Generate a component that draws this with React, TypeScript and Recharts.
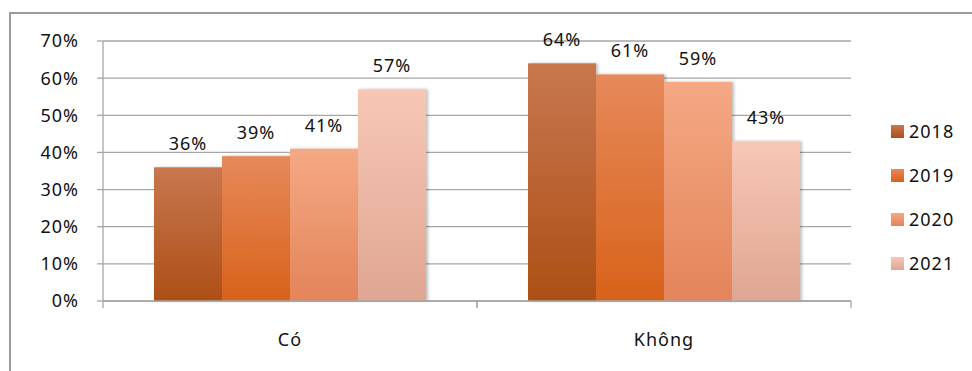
import { Bar, BarChart, CartesianGrid, LabelList, XAxis, YAxis } from "recharts";

const categories = ["Có", "Không"];
const years = ["2018", "2019", "2020", "2021"];
const v2018 = [36, 64];
const v2019 = [39, 61];
const v2020 = [41, 59];
const v2021 = [57, 43];
const yTicks = [0, 10, 20, 30, 40, 50, 60, 70];

const series = [v2018, v2019, v2020, v2021];
const data = categories.map((name, i) => {
  const row: Record<string, string | number> = { name };
  years.forEach((y, k) => {
    row[y] = series[k][i];
  });
  return row;
});

// top / bottom colours of each bar gradient
const shades: Record<string, [string, string]> = {
  "2018": ["#c8774f", "#ad4f16"],
  "2019": ["#e6895b", "#d8621a"],
  "2020": ["#f4a984", "#e4845a"],
  "2021": ["#f7c7b5", "#dfa692"]
};

const font = "'Noto Sans', sans-serif";
const textStyle = { fill: "#111", fontSize: 18, fontFamily: font, letterSpacing: 1 };
const axisGray = "#a6a6a6";
const X_TICK_MARGIN = 29;

function ShadowBar(props: any) {
  const { x, y, width, height, fill } = props;
  if (!height || height <= 0) return null;
  return <rect x={x} y={y} width={width} height={height} fill={fill} filter="url(#barShadow)" />;
}

// category label plus the small tick marks at the category boundaries
function CategoryTick(props: any) {
  const { x, y, payload } = props;
  const half = payload.offset || 0;
  const axisY = y - X_TICK_MARGIN;
  return (
    <g>
      <line x1={x - half} x2={x - half} y1={axisY} y2={axisY + 7} stroke={axisGray} strokeWidth={1.3} />
      <line x1={x + half} x2={x + half} y1={axisY} y2={axisY + 7} stroke={axisGray} strokeWidth={1.3} />
      <text x={x} y={y} dy="0.9em" textAnchor="middle" style={textStyle}>
        {payload.value}
      </text>
    </g>
  );
}

function LegendBox() {
  return (
    <div style={{ position: "absolute", left: 891, top: 109, fontFamily: font, fontSize: 18, color: "#111" }}>
      {years.map((y) => (
        <div key={y} style={{ display: "flex", alignItems: "center", height: 44 }}>
          <div
            style={{
              width: 13,
              height: 13,
              marginRight: 5,
              background: `linear-gradient(${shades[y][0]}, ${shades[y][1]})`
            }}
          />
          <span style={{ letterSpacing: 1 }}>{y}</span>
        </div>
      ))}
    </div>
  );
}

export default function App() {
  return (
    <div style={{ position: "absolute", left: 0, top: 0, width: 972, height: 371, overflow: "hidden", background: "#fff" }}>
      <div
        style={{
          position: "absolute",
          left: 9,
          top: 12,
          width: 1000,
          height: 400,
          border: "2px solid #9a9a9a"
        }}
      />
      <div style={{ position: "absolute", left: 0, top: 0 }}>
        <BarChart
          width={972}
          height={371}
          data={data}
          margin={{ top: 41, right: 121, bottom: 0, left: 0 }}
          barCategoryGap={51}
          barGap={0}
        >
          <defs>
            {years.map((y) => (
              <linearGradient key={y} id={`g${y}`} x1="0" y1="0" x2="0" y2="1">
                <stop offset="0%" stopColor={shades[y][0]} />
                <stop offset="100%" stopColor={shades[y][1]} />
              </linearGradient>
            ))}
            <filter id="barShadow" x="-10%" y="-10%" width="130%" height="120%">
              <feDropShadow dx="2" dy="0" stdDeviation="1.5" floodColor="#000" floodOpacity="0.25" />
            </filter>
          </defs>
          <CartesianGrid vertical={false} stroke={axisGray} strokeWidth={1.3} />
          <XAxis
            dataKey="name"
            height={70}
            tickLine={false}
            tickSize={0}
            tickMargin={X_TICK_MARGIN}
            axisLine={{ stroke: axisGray, strokeWidth: 1.3 }}
            tick={<CategoryTick />}
          />
          <YAxis
            domain={[0, 70]}
            ticks={yTicks}
            width={103}
            tickFormatter={(v) => `${v}%`}
            tickSize={6}
            tickMargin={18}
            axisLine={{ stroke: axisGray, strokeWidth: 1.3 }}
            tickLine={{ stroke: axisGray, strokeWidth: 1.3 }}
            tick={textStyle}
          />
          {years.map((y) => (
            <Bar key={y} dataKey={y} fill={`url(#g${y})`} shape={<ShadowBar />} isAnimationActive={false}>
              <LabelList
                dataKey={y}
                position="top"
                offset={17}
                formatter={(v: any) => `${v}%`}
                style={textStyle}
              />
            </Bar>
          ))}
        </BarChart>
      </div>
      <LegendBox />
    </div>
  );
}
